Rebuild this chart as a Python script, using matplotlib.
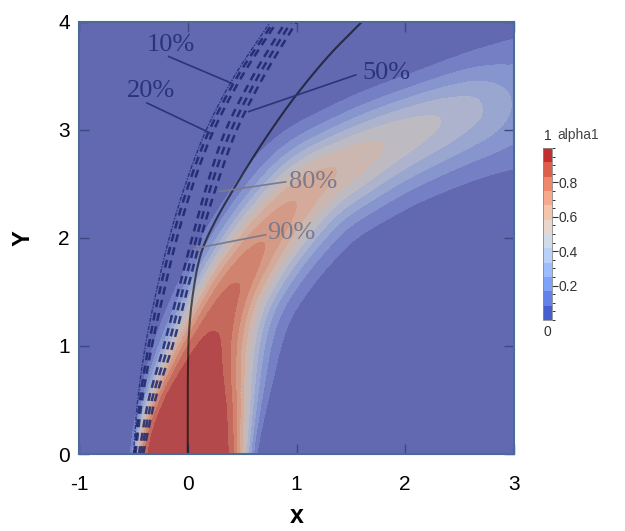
import numpy as np
import matplotlib
matplotlib.use("Agg")
import matplotlib.pyplot as plt
from matplotlib.colors import ListedColormap, Normalize
from matplotlib.cm import ScalarMappable
from matplotlib.ticker import MultipleLocator

plt.rcParams["axes.unicode_minus"] = False

# ---------------- data ----------------
# plume ridge (centre of the alpha1 plume) and its properties along the ridge
ridge_x = [0.00, 0.00, 0.08, 0.20, 0.42, 0.72, 1.12, 1.80, 2.30, 2.65, 3.00, 3.60]
ridge_y = [-0.40, 0.00, 0.50, 1.00, 1.50, 2.00, 2.50, 2.88, 3.10, 3.22, 3.30, 3.42]
ridge_peak = [1.00, 1.00, 1.00, 0.94, 0.85, 0.74, 0.63, 0.50, 0.42, 0.35, 0.24, 0.14]
sharp_up = [10.0, 10.0, 5.0, 2.8, 2.6, 2.3, 2.0, 2.0, 2.0, 2.0, 2.0, 2.0]
sharp_dn = [7.0, 6.5, 3.8, 2.4, 1.8, 1.9, 2.0, 2.0, 2.0, 2.0, 2.0, 2.0]
edge_up = [0.54, 0.54, 0.52, 0.50, 0.50, 0.52, 0.56, 0.52, 0.48, 0.50, 0.53, 0.55]
edge_dn = [0.62, 0.62, 0.64, 0.64, 0.56, 0.60, 0.64, 0.63, 0.64, 0.64, 0.64, 0.64]

levels = np.linspace(0, 1, 13)

# trajectory curves (x at given heights)
traj_y = [0.0, 0.5, 1.0, 1.5, 2.0, 2.5, 3.0, 3.5, 4.0]
traj10 = [-0.50, -0.46, -0.39, -0.29, -0.17, -0.02, 0.17, 0.43, 0.76]
traj_dashed = [
    [-0.49, -0.44, -0.36, -0.26, -0.14, 0.01, 0.20, 0.46, 0.79],
    [-0.48, -0.42, -0.33, -0.22, -0.10, 0.05, 0.24, 0.50, 0.82],
    [-0.45, -0.36, -0.22, -0.09, 0.04, 0.18, 0.35, 0.60, 0.90],
    [-0.43, -0.33, -0.18, -0.05, 0.08, 0.22, 0.40, 0.65, 0.95],
    [-0.41, -0.30, -0.14, -0.01, 0.12, 0.27, 0.45, 0.70, 1.00],
]
solid_x = [0.0, 0.0, 0.01, 0.05, 0.12, 0.25, 0.45, 0.70, 0.98, 1.29, 1.60]
solid_y = [0.0, 0.6, 1.10, 1.50, 1.85, 2.15, 2.50, 2.90, 3.30, 3.68, 4.00]

labels = ["10%", "20%", "50%", "80%", "90%"]
label_pos = [(-0.16, 3.79), (-0.336, 3.36), (1.83, 3.53), (1.15, 2.52), (0.95, 2.05)]
leader_from = [(-0.175, 3.68), (-0.375, 3.25), (1.545, 3.51), (0.90, 2.52), (0.716, 2.03)]
leader_to = [(0.41, 3.43), (0.21, 2.97), (0.56, 3.17), (0.29, 2.43), (0.055, 1.90)]
label_colors = ["#2b3479", "#2b3479", "#2b3479", "#7a7a8c", "#7a7a8c"]


def catmull(xs, ys, n=20):
    xs = np.asarray(xs, float); ys = np.asarray(ys, float)
    P = np.column_stack([xs, ys])
    P = np.vstack([2 * P[0] - P[1], P, 2 * P[-1] - P[-2]])
    out = []
    for i in range(1, len(P) - 2):
        p0, p1, p2, p3 = P[i - 1], P[i], P[i + 1], P[i + 2]
        t = np.linspace(0, 1, n, endpoint=False)[:, None]
        pts = 0.5 * ((2 * p1) + (-p0 + p2) * t + (2 * p0 - 5 * p1 + 4 * p2 - p3) * t ** 2
                     + (-p0 + 3 * p1 - 3 * p2 + p3) * t ** 3)
        out.append(pts)
    out.append(P[-2][None, :])
    out = np.vstack(out)
    return out[:, 0], out[:, 1]


# ---------------- build the field ----------------
rx = np.asarray(ridge_x); ry = np.asarray(ridge_y)
seg = np.hypot(np.diff(rx), np.diff(ry))
s_nodes = np.concatenate([[0], np.cumsum(seg)])
ns = 700
t = np.linspace(0, s_nodes[-1], ns)
cx = np.interp(t, s_nodes, rx); cy = np.interp(t, s_nodes, ry)
k = 41
ker = np.ones(k) / k


def smooth(a):
    for _ in range(3):
        a = np.convolve(np.pad(a, k // 2, mode="edge"), ker, mode="valid")
    return a


cx = smooth(cx); cy = smooth(cy)
pk = np.interp(t, s_nodes, ridge_peak)
su = smooth(np.interp(t, s_nodes, sharp_up))
sdn = smooth(np.interp(t, s_nodes, sharp_dn))
eu = smooth(np.interp(t, s_nodes, edge_up))
ed = smooth(np.interp(t, s_nodes, edge_dn))
tx = np.gradient(cx); ty = np.gradient(cy)
nn = np.hypot(tx, ty); tx /= nn; ty /= nn

gx = np.linspace(-1, 3, 401)
gy = np.linspace(0, 4, 401)
X, Y = np.meshgrid(gx, gy)
best = np.full(X.shape, np.inf)
idx = np.zeros(X.shape, dtype=int)
for i in range(ns):
    d2 = (X - cx[i]) ** 2 + (Y - cy[i]) ** 2
    m = d2 < best
    best[m] = d2[m]
    idx[m] = i
sd = (X - cx[idx]) * (-ty[idx]) + (Y - cy[idx]) * tx[idx]
dist = np.sqrt(best)
P = pk[idx]
up = sd > 0
S = np.where(up, su[idx], sdn[idx])
D = np.where(up, eu[idx], ed[idx])
w = D / np.log(P / levels[1]) ** (1.0 / S)
V = P * np.exp(-(dist / w) ** S)
V = np.clip(V, 0, 0.9999)

centers = 0.5 * (levels[:-1] + levels[1:])
base = plt.get_cmap("coolwarm")(centers)[:, :3]
tint = np.array([150, 125, 122]) / 255.0
plot_cols = 0.65 * base + 0.35 * tint

# ---------------- figure ----------------
fig = plt.figure(figsize=(6.25, 5.31), dpi=100)
ax = fig.add_axes([0.1264, 0.145, 0.696, 0.8136])
ax.contourf(X, Y, V, levels=levels, colors=[tuple(c) for c in plot_cols])
ax.set_xlim(-1, 3)
ax.set_ylim(0, 4)

# trajectory lines
lx, ly = catmull(traj10, traj_y)
ax.plot(lx, ly, color="#1f2a78", lw=1.0, alpha=0.85, ls=(0, (3, 1, 1, 1)))
for tr in traj_dashed:
    lx, ly = catmull(tr, traj_y)
    ax.plot(lx, ly, color="#1c256c", lw=1.8, alpha=0.85, ls=(0, (3.2, 2.2)))
lx, ly = catmull(solid_x, solid_y)
ax.plot(lx, ly, color="black", lw=1.5, alpha=0.6)

for lab, pos, f, to, col in zip(labels, label_pos, leader_from, leader_to, label_colors):
    ax.plot([f[0], to[0]], [f[1], to[1]], color=col, lw=1.2)
    ax.text(pos[0], pos[1], lab, ha="center", va="center", fontsize=19,
            family="Liberation Serif", color=col)

ax.set_xticks([-1, 0, 1, 2, 3])
ax.set_yticks([0, 1, 2, 3, 4])
ax.tick_params(direction="in", length=7, width=1, color="#3a4a80", top=True, right=True,
               labelsize=15)
ax.tick_params(axis="x", pad=15)
ax.tick_params(axis="y", pad=6.5)
for lab in ax.get_xticklabels() + ax.get_yticklabels():
    lab.set_family("Liberation Sans")
for sp in ax.spines.values():
    sp.set_color("#4a6a9a")
    sp.set_linewidth(1.5)

fig.text(297 / 625, 1 - 516 / 531, "x", ha="center", va="center", fontsize=18,
         fontweight="bold", family="Liberation Sans")
fig.text(23 / 625, 1 - 238 / 531, "Y", ha="center", va="center", fontsize=17,
         fontweight="bold", family="Liberation Sans", rotation=90)

# colorbar
cax = fig.add_axes([0.8688, 0.3974, 0.014, 0.324])
sm = ScalarMappable(norm=Normalize(0, 1), cmap=ListedColormap(base))
cb = fig.colorbar(sm, cax=cax, ticks=[0.2, 0.4, 0.6, 0.8])
cb.ax.set_yticklabels(["0.2", "0.4", "0.6", "0.8"])
cb.ax.yaxis.set_minor_locator(MultipleLocator(0.05))
cb.ax.tick_params(which="major", length=4, width=0.8, color="#333333", labelsize=10,
                  pad=1, labelcolor="#333333")
cb.ax.tick_params(which="minor", length=2.5, width=0.7, color="#333333")
for lab in cb.ax.get_yticklabels():
    lab.set_family("Liberation Sans")
cb.outline.set_edgecolor("#888888")
cb.outline.set_linewidth(0.6)
cax.text(0.5, 1.03, "1", transform=cax.transAxes, ha="center", va="bottom",
         fontsize=10, color="#333333", family="Liberation Sans")
cax.text(0.5, -0.03, "0", transform=cax.transAxes, ha="center", va="top",
         fontsize=10, color="#333333", family="Liberation Sans")
fig.text(0.925, 0.745, "alpha1", ha="center", va="center", fontsize=10,
         color="#444444", family="Liberation Sans")

fig.savefig("out.png", dpi=100)
